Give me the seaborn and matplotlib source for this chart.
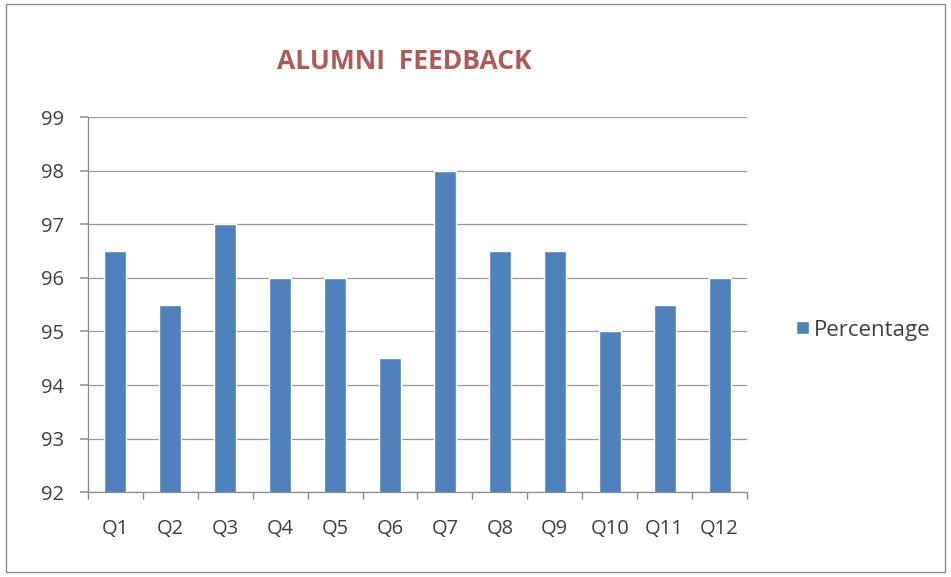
import matplotlib
matplotlib.use("Agg")
import matplotlib.pyplot as plt
import seaborn as sns
import pandas as pd
import numpy as np

categories = ["Q1", "Q2", "Q3", "Q4", "Q5", "Q6", "Q7", "Q8", "Q9", "Q10", "Q11", "Q12"]
percentage = [96.5, 95.5, 97, 96, 96, 94.5, 98, 96.5, 96.5, 95, 95.5, 96]
series_name = "Percentage"
yticks = [92, 93, 94, 95, 96, 97, 98, 99]

sns.set_theme(style="white")
plt.rcParams["font.family"] = ["Open Sans", "DejaVu Sans"]

df = pd.DataFrame({"Question": categories, "Value": percentage, "Series": series_name})

fig = plt.figure(figsize=(9.51, 5.77), dpi=100)
ax = fig.add_axes([0.0925, 0.147, 0.693, 0.650])

sns.barplot(data=df, x="Question", y="Value", hue="Series", palette=["#4f81bd"],
            width=0.4, ax=ax, saturation=1)

ax.set_ylim(92, 99)
ax.set_yticks(yticks)
ax.set_xlim(-0.5, len(categories) - 0.5)
ax.yaxis.grid(True, color="#999999", linewidth=0.9)
ax.set_axisbelow(True)
ax.set_xlabel("")
ax.set_ylabel("")

for s in ["top", "right"]:
    ax.spines[s].set_visible(False)
for s in ["left", "bottom"]:
    ax.spines[s].set_color("#8c8c8c")
    ax.spines[s].set_linewidth(0.9)

ax.tick_params(axis="y", labelsize=14.5, colors="#404040", length=6, direction="out", left=True, pad=11)
ax.tick_params(axis="y", color="#999999")
ax.tick_params(axis="x", labelsize=14.5, colors="#404040", length=0, pad=19)
ax.set_xticks(np.arange(-0.5, len(categories), 1.0), minor=True)
ax.tick_params(axis="x", which="minor", length=5, color="#8c8c8c", direction="out", bottom=True)

fig.text(0.425, 0.893, "ALUMNI  FEEDBACK", ha="center", va="center",
         fontsize=19, fontweight="bold", color="#b05a57")

ax.legend(loc="center left", bbox_to_anchor=(0.828, 0.428), bbox_transform=fig.transFigure,
          frameon=False, fontsize=16, handlelength=0.55, handleheight=0.55, handletextpad=0.25,
          borderaxespad=0, labelcolor="#404040")

border = plt.Rectangle((0.006, 0.008), 0.988, 0.985, transform=fig.transFigure,
                       fill=False, edgecolor="#8c8c8c", linewidth=1)
fig.patches.append(border)

fig.savefig("out.png", dpi=100)
